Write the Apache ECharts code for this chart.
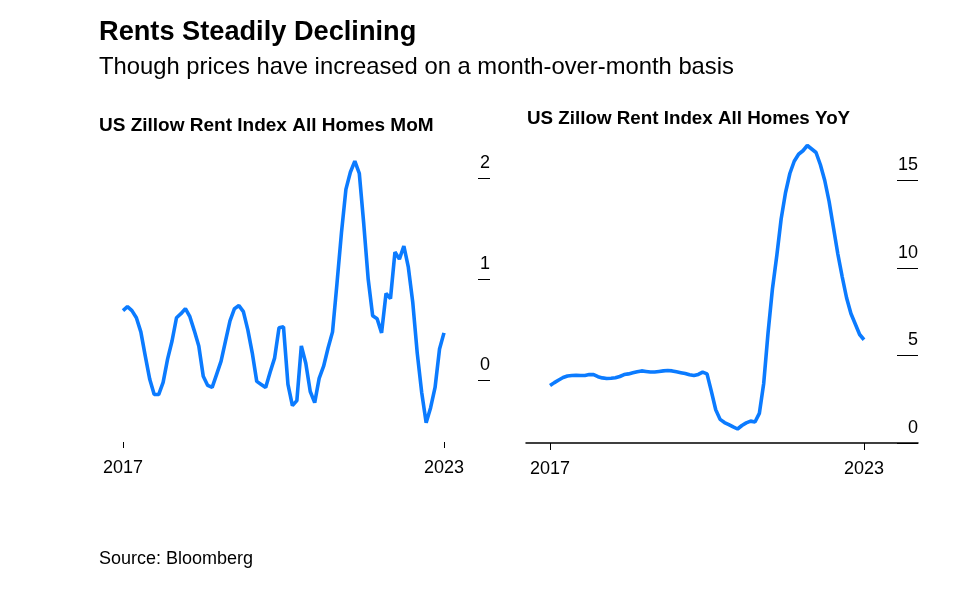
<!DOCTYPE html>
<html>
<head>
<meta charset="utf-8">
<script src="https://cdn.jsdelivr.net/npm/echarts@6/dist/echarts.min.js"></script>
<style>
html,body{margin:0;padding:0;background:#fff;}
#chart{width:963px;height:591px;}
</style>
</head>
<body>
<div id="chart"></div>
<script>
const months = [
 '2017-01','2017-02','2017-03','2017-04','2017-05','2017-06','2017-07','2017-08','2017-09','2017-10','2017-11','2017-12',
 '2018-01','2018-02','2018-03','2018-04','2018-05','2018-06','2018-07','2018-08','2018-09','2018-10','2018-11','2018-12',
 '2019-01','2019-02','2019-03','2019-04','2019-05','2019-06','2019-07','2019-08','2019-09','2019-10','2019-11','2019-12',
 '2020-01','2020-02','2020-03','2020-04','2020-05','2020-06','2020-07','2020-08','2020-09','2020-10','2020-11','2020-12',
 '2021-01','2021-02','2021-03','2021-04','2021-05','2021-06','2021-07','2021-08','2021-09','2021-10','2021-11','2021-12',
 '2022-01','2022-02','2022-03','2022-04','2022-05','2022-06','2022-07','2022-08','2022-09','2022-10','2022-11','2022-12',
 '2023-01'
];
const momValues = [
 0.69,0.73,0.69,0.62,0.48,0.24,0.01,-0.14,-0.14,-0.02,0.21,0.39,
 0.62,0.66,0.71,0.63,0.49,0.34,0.04,-0.05,-0.07,0.06,0.19,0.39,
 0.59,0.71,0.74,0.68,0.50,0.27,-0.01,-0.04,-0.07,0.08,0.22,0.52,
 0.53,-0.04,-0.25,-0.20,0.34,0.17,-0.11,-0.22,0.02,0.14,0.32,0.48,
 0.96,1.46,1.89,2.06,2.17,2.05,1.55,1.00,0.64,0.61,0.47,0.86,
 0.81,1.27,1.20,1.33,1.12,0.77,0.27,-0.12,-0.42,-0.27,-0.07,0.31,
 0.47
];
const yoyValues = [
 3.28,3.45,3.60,3.74,3.83,3.86,3.87,3.86,3.86,3.91,3.91,3.79,
 3.72,3.69,3.70,3.73,3.80,3.91,3.95,4.01,4.07,4.12,4.09,4.06,
 4.06,4.09,4.12,4.14,4.12,4.07,4.02,3.97,3.90,3.86,3.92,4.05,
 3.95,2.95,1.90,1.35,1.17,1.05,0.92,0.80,1.00,1.15,1.25,1.20,
 1.69,3.40,6.30,8.80,10.70,12.80,14.30,15.40,16.10,16.50,16.70,17.00,
 16.80,16.60,15.90,15.00,13.80,12.30,10.80,9.50,8.30,7.40,6.80,6.20,
 5.90
];
const xTickYears = [2017, 2023];
const momTicks = [0, 1, 2];

const title = 'Rents Steadily Declining';
const subtitle = 'Though prices have increased on a month-over-month basis';
const leftTitle = 'US Zillow Rent Index All Homes MoM';
const rightTitle = 'US Zillow Rent Index All Homes YoY';
const source = 'Source: Bloomberg';

function toYear(m) {
  const [y, mo] = m.split('-').map(Number);
  return y + (mo - 1) / 12;
}
const momData = months.map((m, i) => [toYear(m), momValues[i]]);
const yoyData = months.map((m, i) => [toYear(m), yoyValues[i]]);

const FONT = 'Liberation Sans, Arial, sans-serif';
const LINE = '#0b7bff';

const chart = echarts.init(document.getElementById('chart'), null, {renderer: 'canvas'});
chart.setOption({
  animation: false,
  backgroundColor: '#fff',
  graphic: [
    {type: 'text', left: 99, top: 19, style: {text: title, font: 'bold 27.2px ' + FONT, fill: '#000'}},
    {type: 'text', left: 99, top: 55, style: {text: subtitle, font: '23.8px ' + FONT, fill: '#000'}},
    {type: 'text', left: 99, top: 116, style: {text: leftTitle, font: 'bold 19px ' + FONT, fill: '#000'}},
    {type: 'text', left: 527, top: 109, style: {text: rightTitle, font: 'bold 18.8px ' + FONT, fill: '#000'}},
    {type: 'text', left: 99, top: 550, style: {text: source, font: '18px ' + FONT, fill: '#000'}}
  ],
  grid: [
    {left: 110, top: 148, width: 380, height: 294, containLabel: false},
    {left: 526, top: 137, width: 392, height: 306, containLabel: false}
  ],
  xAxis: [
    {
      type: 'value', gridIndex: 0, min: 2016.757, max: 2023.860,
      axisLine: {show: false, onZero: false},
      axisTick: {show: true, customValues: xTickYears, length: 6, lineStyle: {color: '#000', width: 1}},
      axisLabel: {customValues: xTickYears, formatter: v => String(Math.round(v)), color: '#000', fontSize: 18, fontFamily: FONT, margin: 17},
      splitLine: {show: false}
    },
    {
      type: 'value', gridIndex: 1, min: 2016.541, max: 2024.032,
      axisLine: {show: true, onZero: false, lineStyle: {color: '#000', width: 1.5}},
      axisTick: {show: true, customValues: xTickYears, length: 7, lineStyle: {color: '#000', width: 1}},
      axisLabel: {customValues: xTickYears, formatter: v => String(Math.round(v)), color: '#000', fontSize: 18, fontFamily: FONT, margin: 17},
      splitLine: {show: false}
    }
  ],
  yAxis: [
    {
      type: 'value', gridIndex: 0, position: 'right', min: -0.61, max: 2.3,
      axisLine: {show: false},
      axisTick: {show: true, inside: true, length: 12, customValues: momTicks, lineStyle: {color: '#000', width: 1}},
      axisLabel: {inside: true, customValues: momTicks, align: 'right', verticalAlign: 'bottom', padding: [0, 0, 6, 0], margin: 0, color: '#000', fontSize: 18, fontFamily: FONT},
      splitLine: {show: false}
    },
    {
      type: 'value', gridIndex: 1, position: 'right', min: 0, max: 17.486, interval: 5,
      axisLine: {show: false},
      axisTick: {show: true, inside: true, length: 21, lineStyle: {color: '#000', width: 1}},
      axisLabel: {inside: true, align: 'right', verticalAlign: 'bottom', padding: [0, 0, 6, 0], margin: 0, color: '#000', fontSize: 18, fontFamily: FONT, showMaxLabel: false},
      splitLine: {show: false}
    }
  ],
  series: [
    {type: 'line', xAxisIndex: 0, yAxisIndex: 0, data: momData, showSymbol: false, clip: false,
     lineStyle: {color: LINE, width: 3.6}, itemStyle: {color: LINE}},
    {type: 'line', xAxisIndex: 1, yAxisIndex: 1, data: yoyData, showSymbol: false, clip: false,
     lineStyle: {color: LINE, width: 3.6}, itemStyle: {color: LINE}}
  ]
});
</script>
</body>
</html>
